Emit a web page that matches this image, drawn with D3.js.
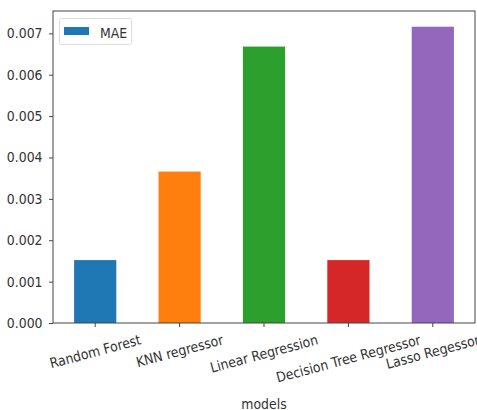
<!DOCTYPE html>
<html>
<head>
<meta charset="utf-8">
<script src="https://cdn.jsdelivr.net/npm/d3@7"></script>
<style>
  html, body { margin: 0; padding: 0; background: #fff; }
  text { font-family: "DejaVu Sans", sans-serif; }
</style>
</head>
<body>
<svg id="chart" width="477" height="410"></svg>
<script>
const categories = ["Random Forest", "KNN regressor", "Linear Regression", "Decision Tree Regressor", "Lasso Regessor"];
const maeValues = [0.00152, 0.00366, 0.00668, 0.00152, 0.00716];
const barColors = ["#1f77b4", "#ff7f0e", "#2ca02c", "#d62728", "#9467bd"];
const yTicks = [0, 0.001, 0.002, 0.003, 0.004, 0.005, 0.006, 0.007];
const seriesName = "MAE";
const xTitle = "models";

(function () {
const svg = d3.select("#chart");
const mLeft = 53, mRight = 475, mTop = 11, mBottom = 323;
const textColor = "#333";
const axisColor = "#444";
const fontSize = "14px";
const squeeze = 0.89;

function condense(sel) {
  sel.each(function () {
    const L = this.getComputedTextLength();
    d3.select(this).attr("textLength", L * squeeze).attr("lengthAdjust", "spacingAndGlyphs");
  });
}

const x = d3.scaleBand().domain(categories).range([mLeft, mRight]).paddingInner(0.5).paddingOuter(0.25);
const y = d3.scaleLinear().domain([0, 0.00754]).range([mBottom, mTop]);

// bars
svg.append("g").selectAll("rect").data(categories).join("rect")
  .attr("x", d => x(d))
  .attr("width", x.bandwidth())
  .attr("y", (d, i) => y(maeValues[i]))
  .attr("height", (d, i) => y(0) - y(maeValues[i]))
  .attr("fill", (d, i) => barColors[i]);

// y axis
const yAxis = svg.append("g").attr("transform", `translate(${mLeft},0)`)
  .call(d3.axisLeft(y).tickValues(yTicks).tickFormat(d3.format(".3f")).tickSize(4).tickPadding(6.5));
yAxis.attr("font-family", null).attr("font-size", null);
yAxis.select(".domain").remove();
yAxis.selectAll(".tick line").attr("stroke", axisColor);
yAxis.selectAll(".tick text").attr("fill", textColor).style("font-size", fontSize).call(condense);

// x axis
const xAxis = svg.append("g").attr("transform", `translate(0,${mBottom})`)
  .call(d3.axisBottom(x).tickSize(4).tickFormat(""));
xAxis.select(".domain").remove();
xAxis.selectAll(".tick line").attr("stroke", axisColor);

// rotated x labels
const angle = -15 * Math.PI / 180;
const labelTop = 332;
categories.forEach(c => {
  const t = svg.append("text")
    .attr("text-anchor", "middle")
    .attr("dominant-baseline", "central")
    .style("font-size", fontSize)
    .attr("fill", textColor)
    .text(c);
  const w = t.node().getComputedTextLength() * squeeze;
  t.call(condense);
  const h = 15;
  const bh = w * Math.abs(Math.sin(angle)) + h * Math.cos(angle);
  const cx = x(c) + x.bandwidth() / 2;
  const cy = labelTop + bh / 2;
  t.attr("x", cx).attr("y", cy).attr("transform", `rotate(-15,${cx},${cy})`);
});

// frame
svg.append("rect").attr("x", mLeft).attr("y", mTop).attr("width", mRight - mLeft).attr("height", mBottom - mTop)
  .attr("fill", "none").attr("stroke", axisColor).attr("stroke-width", 1);

// x title
svg.append("text").attr("x", (mLeft + mRight) / 2).attr("y", 408.5)
  .attr("text-anchor", "middle")
  .style("font-size", fontSize).attr("fill", textColor).text(xTitle).call(condense);

// legend
const lg = svg.append("g");
lg.append("rect").attr("x", 59.5).attr("y", 18.5).attr("width", 72).attr("height", 26).attr("rx", 2)
  .attr("fill", "#fff").attr("stroke", "#ddd");
lg.append("rect").attr("x", 64).attr("y", 27).attr("width", 25).attr("height", 8).attr("fill", barColors[0]);
lg.append("text").attr("x", 100).attr("y", 37.5)
  .style("font-size", fontSize).attr("fill", textColor).text(seriesName).call(condense);
})();
</script>
</body>
</html>
